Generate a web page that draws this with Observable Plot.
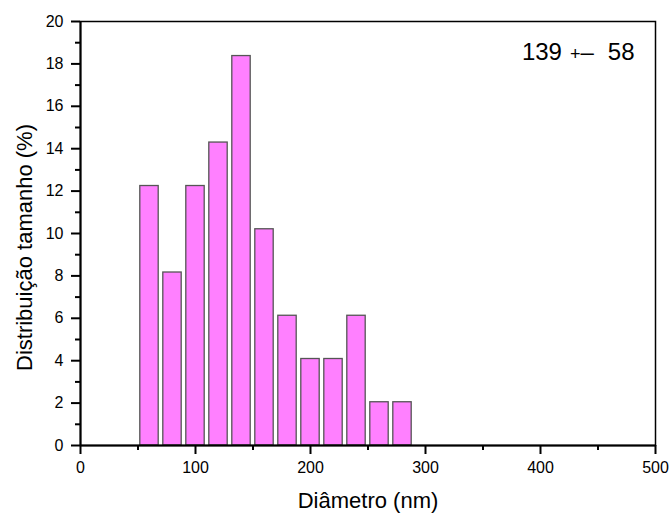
<!DOCTYPE html>
<html>
<head>
<meta charset="utf-8">
<script src="https://cdn.jsdelivr.net/npm/d3@7"></script>
<script src="https://cdn.jsdelivr.net/npm/@observablehq/plot@0.6"></script>
<style>
  html, body { margin: 0; padding: 0; background: #fff; }
  #chart svg { display: block; }
</style>
</head>
<body>
<div id="chart"></div>
<script>
// Data (bin centres in nm, percentages)
const binCenters = [60, 80, 100, 120, 140, 160, 180, 200, 220, 240, 260, 280];
const percents   = [12.24, 8.16, 12.24, 14.29, 18.37, 10.20, 6.12, 4.08, 4.08, 6.12, 2.04, 2.04];
const xMajorTicks = [0, 100, 200, 300, 400, 500];
const xMinorTicks = [50, 150, 250, 350, 450];
const yMajorTicks = [0, 2, 4, 6, 8, 10, 12, 14, 16, 18, 20];
const yMinorTicks = [1, 3, 5, 7, 9, 11, 13, 15, 17, 19];
const xLabel = "Diâmetro (nm)";
const yLabel = "Distribuição tamanho (%)";
const annotation = ["139", "+", "–", "58"];

const halfBar = 8;
const bars = binCenters.map((c, i) => ({x1: c - halfBar, x2: c + halfBar, y: percents[i]}));
const font = "'Liberation Sans', Arial, sans-serif";

const chart = Plot.plot({
  width: 672,
  height: 516,
  marginLeft: 80,
  marginRight: 17,
  marginTop: 21,
  marginBottom: 71,
  style: {fontFamily: font, color: "#000", background: "#fff"},
  x: {domain: [0, 500]},
  y: {domain: [0, 20]},
  marks: [
    Plot.rectY(bars, {x1: "x1", x2: "x2", y: "y", fill: "#ff80ff", stroke: "#555", strokeWidth: 1.3}),
    Plot.frame({stroke: "#000", strokeWidth: 1.5}),
    Plot.ruleY([0], {stroke: "#000", strokeWidth: 2}),
    Plot.ruleX([0], {stroke: "#000", strokeWidth: 2}),
    Plot.axisX({ticks: xMajorTicks, tickSize: 9, tickPadding: 7, strokeWidth: 2, fontSize: 16, label: null, tickFormat: d => String(d)}),
    Plot.axisX({ticks: xMinorTicks, tickSize: 5, strokeWidth: 2, text: null, label: null}),
    Plot.axisY({ticks: yMajorTicks, tickSize: 9, tickPadding: 8, strokeWidth: 2, fontSize: 16, label: null, tickFormat: d => String(d)}),
    Plot.axisY({ticks: yMinorTicks, tickSize: 5, strokeWidth: 2, text: null, label: null}),
    Plot.text([yLabel], {text: d => d, frameAnchor: "left", textAnchor: "middle", rotate: -90, dx: -56, dy: 14, fontSize: 22, fill: "#000"}),
    Plot.text([xLabel], {text: d => d, frameAnchor: "bottom", textAnchor: "middle", dy: 62, fontSize: 22, fill: "#000"}),
    Plot.text([annotation.join(" ")], {text: d => d, frameAnchor: "top-right", textAnchor: "end", lineAnchor: "top", dx: -21, dy: 21, fontSize: 24, fill: "#000", className: "annot"})
  ]
});

document.getElementById("chart").append(chart);

// Render the annotation with a smaller "+" as in the reference
d3.select(chart).selectAll(".annot text").each(function() {
  const t = d3.select(this);
  t.text(null);
  t.append("tspan").text(annotation[0]);
  t.append("tspan").attr("dx", 8).attr("font-size", 18).text(annotation[1]);
  t.append("tspan").text(annotation[2]);
  t.append("tspan").attr("dx", 14).text(annotation[3]);
});
</script>
</body>
</html>
